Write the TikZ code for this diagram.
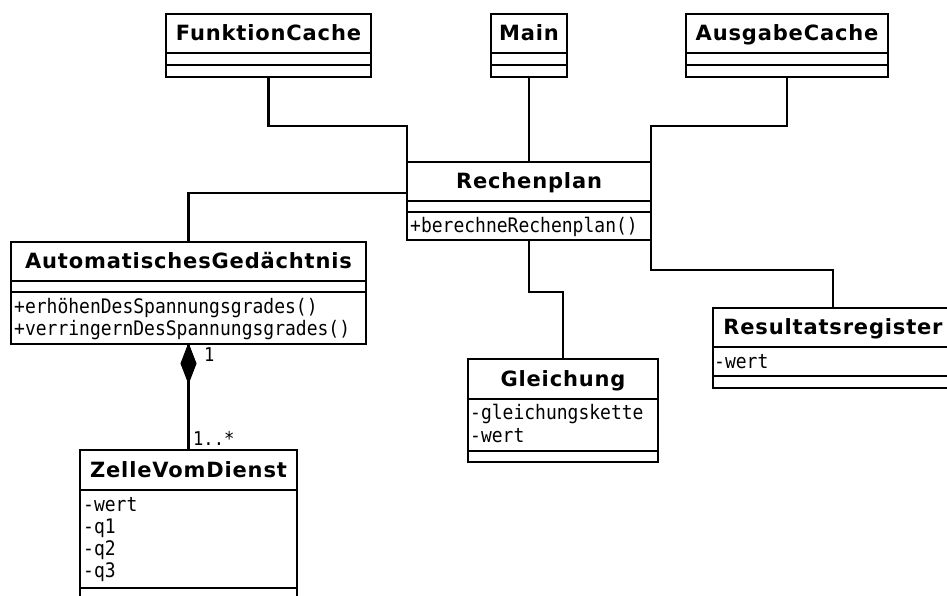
\documentclass[tikz,border=0pt]{standalone}
\usepackage{fontspec}
\newfontfamily\titlefont[LetterSpace=4]{DejaVu Sans}
\newfontfamily\memberfont[FakeStretch=0.9]{DejaVu Sans Mono}
\begin{document}
\begin{tikzpicture}[x=1pt,y=-1pt,
  box/.style={draw, line width=2.2pt, inner sep=0pt, outer sep=0pt, anchor=north west},
  sepline/.style={line width=2.2pt},
  conn/.style={line width=2.2pt},
  classtitle/.style={inner sep=0pt, anchor=base, font=\titlefont\bfseries\fontsize{21}{24}\selectfont},
  member/.style={inner sep=0pt, anchor=base west, font=\memberfont\fontsize{20}{24}\selectfont},
  mult/.style={inner sep=0pt, anchor=base west, font=\memberfont\fontsize{19}{24}\selectfont},
]
\useasboundingbox (0,0) rectangle (947,596);
\clip (0,0) rectangle (947,596);
\fill[white] (0,0) rectangle (947,596);

% FunktionCache
\node[box, minimum width=205pt, minimum height=63pt] (fc) at (166,14) {};
\draw[sepline] (166,53) -- (371,53) (166,65) -- (371,65);
\node[classtitle] (fct) at (268.5,40.5) {FunktionCache};

% Main
\node[box, minimum width=76pt, minimum height=63pt] (mn) at (491,14) {};
\draw[sepline] (491,53) -- (567,53) (491,65) -- (567,65);
\node[classtitle] (mnt) at (529,40.5) {Main};

% AusgabeCache
\node[box, minimum width=202pt, minimum height=63pt] (ac) at (686,14) {};
\draw[sepline] (686,53) -- (888,53) (686,65) -- (888,65);
\node[classtitle] (act) at (787,40.5) {AusgabeCache};

% Rechenplan
\node[box, minimum width=244pt, minimum height=78pt] (rp) at (407,162) {};
\draw[sepline] (407,201) -- (651,201) (407,212) -- (651,212);
\node[classtitle] (rpt) at (529,188.5) {Rechenplan};
\node[member] (rpm1) at (410,233) {+berechneRechenplan()};

% AutomatischesGedaechtnis
\node[box, minimum width=355pt, minimum height=102pt] (ag) at (11,242) {};
\draw[sepline] (11,281) -- (366,281) (11,292) -- (366,292);
\node[classtitle] (agt) at (188.5,268.5) {AutomatischesGedächtnis};
\node[member] (agm1) at (14,313) {+erhöhenDesSpannungsgrades()};
\node[member] (agm2) at (14,335) {+verringernDesSpannungsgrades()};

% Gleichung
\node[box, minimum width=190pt, minimum height=103pt] (gl) at (468,359) {};
\draw[sepline] (468,399) -- (658,399) (468,451) -- (658,451);
\node[classtitle] (glt) at (563,386) {Gleichung};
\node[member] (gla1) at (470,419) {-gleichungskette};
\node[member] (gla2) at (470,442) {-wert};

% Resultatsregister
\node[box, minimum width=240pt, minimum height=80pt] (rr) at (713,308) {};
\draw[sepline] (713,347) -- (953,347) (713,376) -- (953,376);
\node[classtitle] (rrt) at (833,334.5) {Resultatsregister};
\node[member] (rra1) at (714,368) {-wert};

% ZelleVomDienst
\node[box, minimum width=217pt, minimum height=150pt] (zd) at (80,450) {};
\draw[sepline] (80,490) -- (297,490) (80,588) -- (297,588);
\node[classtitle] (zdt) at (188.5,477) {ZelleVomDienst};
\node[member] (zda1) at (83,511) {-wert};
\node[member] (zda2) at (83,533) {-q1};
\node[member] (zda3) at (83,555) {-q2};
\node[member] (zda4) at (83,577) {-q3};

% connector levels
\coordinate (lvlA) at (0,126);
\coordinate (lvlB) at (0,193);
\coordinate (lvlC) at (0,292);
\coordinate (lvlD) at (0,270);

\draw[conn] (fc.south) -- (fc.south |- lvlA) -| (rp.north west);
\draw[conn] (mn.south) -- (mn.south |- rp.north);
\draw[conn] (ac.south) -- (ac.south |- lvlA) -| (rp.north east);
\draw[conn] (rp.west |- lvlB) -| (ag.north);
\draw[conn] (rp.south) -- (rp.south |- lvlC) -| (gl.north);
\draw[conn] (rp.south east) -- (rp.south east |- lvlD) -| (rr.north);

% composition
\draw[conn] (zd.north) -- (ag.south);
\fill[draw, line width=1pt, line join=miter] (ag.south) -- ++(7.5,19.5) -- ++(-7.5,19.5) -- ++(-7.5,-19.5) -- cycle;
\node[mult] (m1) at (204,361) {1};
\node[mult] (m2) at (193,445) {1..*};
\end{tikzpicture}
\end{document}
